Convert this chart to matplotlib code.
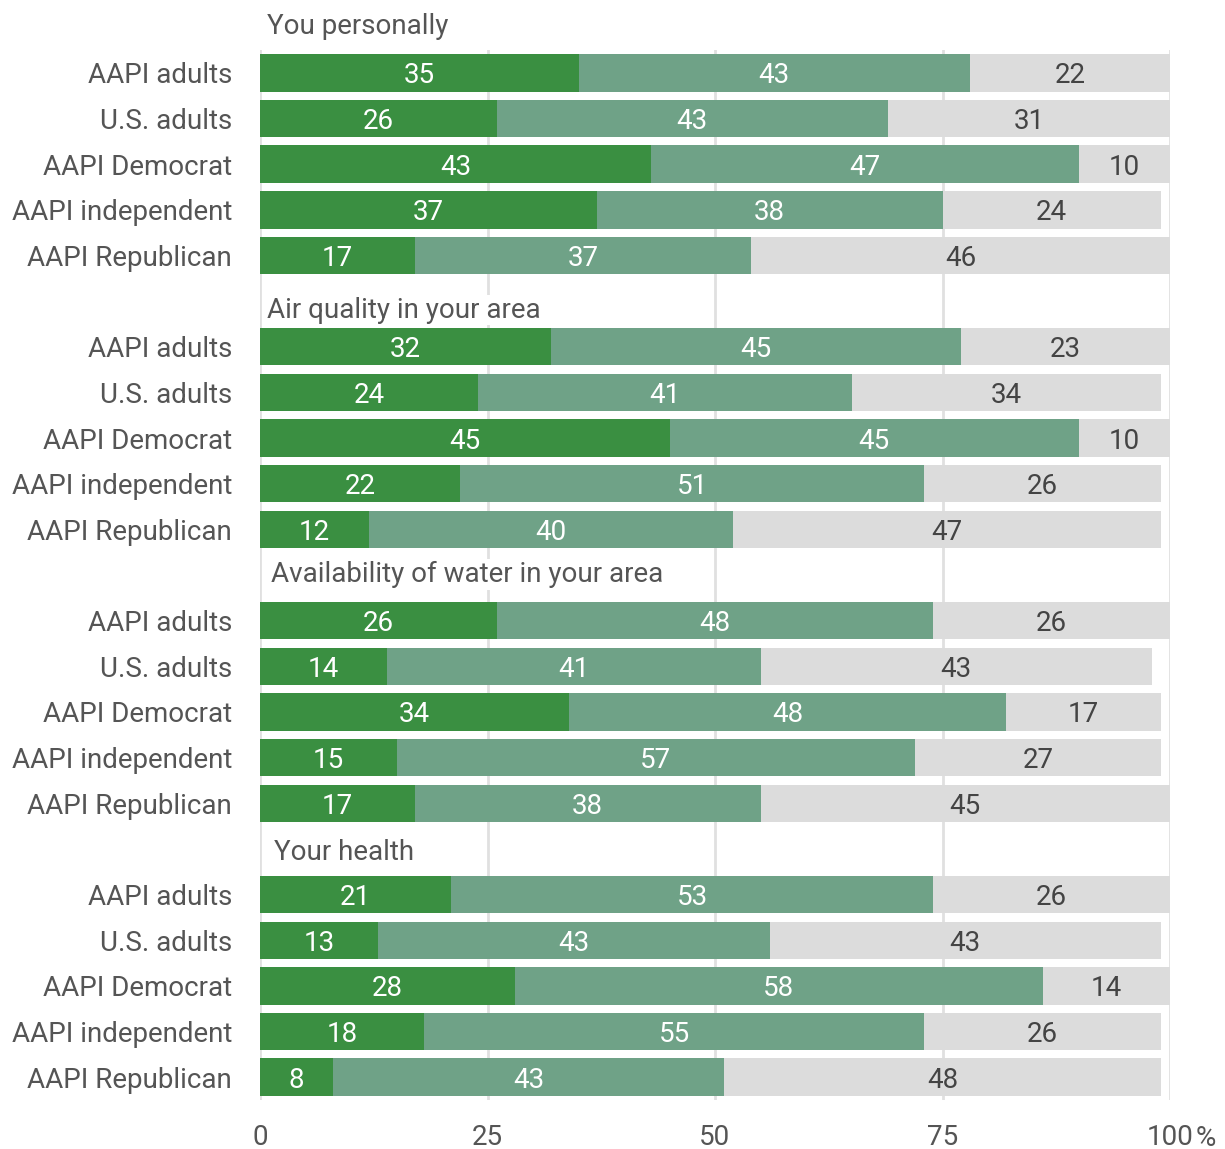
import matplotlib
matplotlib.use("Agg")
import matplotlib.pyplot as plt

plt.rcParams['font.family'] = ['Roboto', 'DejaVu Sans']

groups = ["You personally", "Air quality in your area",
          "Availability of water in your area", "Your health"]
rows = ["AAPI adults", "U.S. adults", "AAPI Democrat",
        "AAPI independent", "AAPI Republican"]

high = [[35, 26, 43, 37, 17],
        [32, 24, 45, 22, 12],
        [26, 14, 34, 15, 17],
        [21, 13, 28, 18, 8]]
mid = [[43, 43, 47, 38, 37],
       [45, 41, 45, 51, 40],
       [48, 41, 48, 57, 38],
       [53, 43, 58, 55, 43]]
low = [[22, 31, 10, 24, 46],
       [23, 34, 10, 26, 47],
       [26, 43, 17, 27, 45],
       [26, 43, 14, 26, 48]]

xticks = [0, 25, 50, 75, 100]
xticklabels = ["0", "25", "50", "75", "100"]

c_dark = "#3a8f41"
c_mid = "#6fa287"
c_grey = "#dcdcdc"
txt = "#555555"
FS = 20

fig = plt.figure(figsize=(12.25, 11.49), dpi=100)
ax = fig.add_axes([260/1225, 1 - 1100/1149, 910/1225, 1050/1149])

title_y = [-0.07, 6.13, 11.93, 18.02]
title_x = [0.75, 0.75, 1.2, 1.55]

ylabels_pos = []
ylabels = []
for g in range(4):
    for r in range(5):
        y = g * 6 + r + 1
        h, m, l = high[g][r], mid[g][r], low[g][r]
        ax.barh(y, h, left=0, height=0.82, color=c_dark, zorder=2)
        ax.barh(y, m, left=h, height=0.82, color=c_mid, zorder=2)
        ax.barh(y, l, left=h + m, height=0.82, color=c_grey, zorder=2)
        ax.text(h / 2, y, str(h), ha='center', va='center_baseline', color='white', fontsize=FS, zorder=3)
        ax.text(h + m / 2, y, str(m), ha='center', va='center_baseline', color='white', fontsize=FS, zorder=3)
        ax.text(h + m + l / 2, y, str(l), ha='center', va='center_baseline', color='#444444', fontsize=FS, zorder=3)
        ylabels_pos.append(y)
        ylabels.append(rows[r])
    ax.text(title_x[g], title_y[g], groups[g], ha='left', va='center_baseline', color=txt,
            fontsize=FS, clip_on=False, zorder=4,
            bbox=dict(facecolor='white', edgecolor='none', pad=1.5))

ax.set_xlim(0, 100)
ax.set_ylim(23.5, 0.5)
ax.set_yticks(ylabels_pos)
ax.set_yticklabels(ylabels, fontsize=FS, color=txt)
ax.set_xticks(xticks)
ax.set_xticklabels(xticklabels, fontsize=FS, color=txt)
ax.tick_params(axis='y', length=0, pad=20)
ax.tick_params(axis='x', length=0, pad=17)
ax.text(103.9, -0.0235, "%", transform=ax.get_xaxis_transform(), fontsize=FS, color=txt,
        ha='center', va='top', clip_on=False)
for s in ax.spines.values():
    s.set_visible(False)
for xv in xticks:
    ax.axvline(xv, color="#e0e0e0", lw=2, zorder=1)

fig.savefig("out.png", dpi=100)
